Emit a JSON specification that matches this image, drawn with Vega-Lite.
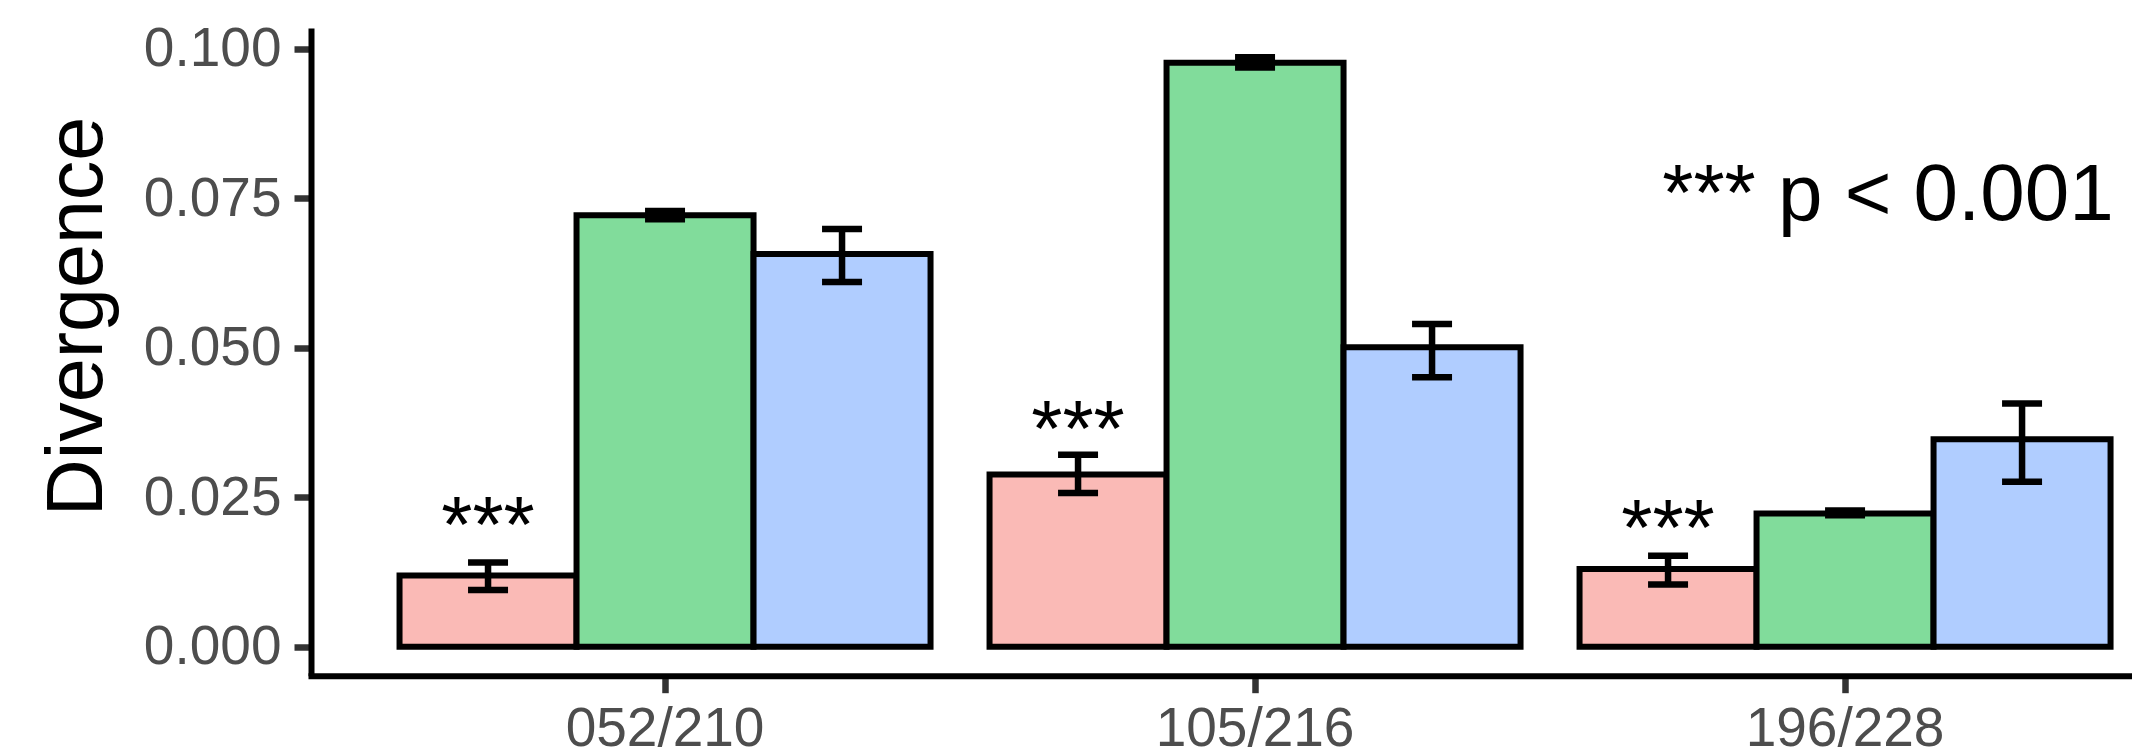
{
  "$schema": "https://vega.github.io/schema/vega-lite/v6.json",
  "autosize": {"type": "none"},
  "width": 1821,
  "height": 647.7,
  "padding": {"left": 311, "top": 28, "right": 0, "bottom": 78.3},
  "background": "white",
  "config": {
    "view": {"stroke": null},
    "font": "Liberation Sans",
    "axis": {"labelFont": "Liberation Sans", "titleFont": "Liberation Sans", "grid": false}
  },
  "datasets": {
    "bars": [
      {"group": "052/210", "cond": "S1", "mean": 0.0119, "lower": 0.0095, "upper": 0.0141, "sig": "***", "sig_y": 0.0159},
      {"group": "052/210", "cond": "S2", "mean": 0.0722, "lower": 0.0715, "upper": 0.0729, "sig": "", "sig_y": null},
      {"group": "052/210", "cond": "S3", "mean": 0.0657, "lower": 0.0610, "upper": 0.0699, "sig": "", "sig_y": null},
      {"group": "105/216", "cond": "S1", "mean": 0.0288, "lower": 0.0257, "upper": 0.0321, "sig": "***", "sig_y": 0.0319},
      {"group": "105/216", "cond": "S2", "mean": 0.0977, "lower": 0.0969, "upper": 0.0986, "sig": "", "sig_y": null},
      {"group": "105/216", "cond": "S3", "mean": 0.0501, "lower": 0.0451, "upper": 0.0540, "sig": "", "sig_y": null},
      {"group": "196/228", "cond": "S1", "mean": 0.0130, "lower": 0.0104, "upper": 0.0152, "sig": "***", "sig_y": 0.0153},
      {"group": "196/228", "cond": "S2", "mean": 0.0223, "lower": 0.0220, "upper": 0.0228, "sig": "", "sig_y": null},
      {"group": "196/228", "cond": "S3", "mean": 0.0347, "lower": 0.0276, "upper": 0.0407, "sig": "", "sig_y": null}
    ],
    "note": [
      {"group": "196/228", "y": 0.0714, "label": "*** p < 0.001"}
    ]
  },
  "encoding": {
    "x": {
      "field": "group", "type": "nominal",
      "sort": ["052/210", "105/216", "196/228"],
      "scale": {"type": "band", "paddingInner": 0.1, "paddingOuter": 0.0932, "align": 0.805, "round": false},
      "axis": {
        "title": null, "labelAngle": 0, "labelFontSize": 55, "labelColor": "#4D4D4D",
        "labelPadding": 10, "labelLimit": 0, "labelOverlap": false,
        "tickSize": 17, "tickWidth": 6.5, "tickColor": "#333333",
        "domainColor": "black", "domainWidth": 6, "domainCap": "square"
      }
    }
  },
  "layer": [
    {
      "data": {"name": "bars"},
      "mark": {"type": "bar", "stroke": "black", "strokeWidth": 6, "opacity": 1},
      "encoding": {
        "xOffset": {"field": "cond", "type": "nominal", "sort": ["S1", "S2", "S3"], "scale": {"paddingInner": 0, "paddingOuter": 0}},
        "y": {
          "field": "mean", "type": "quantitative",
          "scale": {"domain": [-0.00485, 0.10351], "nice": false, "zero": false},
          "axis": {
            "values": [0, 0.025, 0.05, 0.075, 0.1], "format": ".3f",
            "labelFontSize": 55, "labelColor": "#4D4D4D", "labelPadding": 13, "labelLimit": 0,
            "tickSize": 17, "tickWidth": 6.5, "tickColor": "#333333",
            "domainColor": "black", "domainWidth": 6,
            "title": "Divergence", "titleFontSize": 79, "titleColor": "black", "titleFontWeight": "normal",
            "titleX": -210, "titleY": 288, "titleAlign": "center", "titleBaseline": "alphabetic", "titleAngle": 270, "titleLimit": 0
          }
        },
        "fill": {
          "field": "cond", "type": "nominal", "sort": ["S1", "S2", "S3"],
          "scale": {"domain": ["S1", "S2", "S3"], "range": ["#FABAB6", "#81DC9B", "#B0CDFF"]},
          "legend": null
        }
      }
    },
    {
      "data": {"name": "bars"},
      "mark": {"type": "rule", "color": "black", "strokeWidth": 6.5},
      "encoding": {
        "xOffset": {"field": "cond", "type": "nominal", "sort": ["S1", "S2", "S3"]},
        "y": {"field": "lower", "type": "quantitative"},
        "y2": {"field": "upper"}
      }
    },
    {
      "data": {"name": "bars"},
      "mark": {"type": "tick", "color": "black", "size": 40, "thickness": 6.5, "opacity": 1},
      "encoding": {
        "xOffset": {"field": "cond", "type": "nominal", "sort": ["S1", "S2", "S3"]},
        "y": {"field": "lower", "type": "quantitative"}
      }
    },
    {
      "data": {"name": "bars"},
      "mark": {"type": "tick", "color": "black", "size": 40, "thickness": 6.5, "opacity": 1},
      "encoding": {
        "xOffset": {"field": "cond", "type": "nominal", "sort": ["S1", "S2", "S3"]},
        "y": {"field": "upper", "type": "quantitative"}
      }
    },
    {
      "data": {"name": "bars"},
      "transform": [{"filter": "datum.sig != ''"}],
      "mark": {"type": "text", "fontSize": 80, "color": "black", "align": "center", "baseline": "alphabetic", "font": "Liberation Sans"},
      "encoding": {
        "xOffset": {"field": "cond", "type": "nominal", "sort": ["S1", "S2", "S3"]},
        "y": {"field": "sig_y", "type": "quantitative"},
        "text": {"field": "sig"}
      }
    },
    {
      "data": {"name": "note"},
      "mark": {"type": "text", "fontSize": 80, "color": "black", "align": "center", "baseline": "alphabetic", "dx": 43, "font": "Liberation Sans"},
      "encoding": {
        "y": {"field": "y", "type": "quantitative"},
        "text": {"field": "label"}
      }
    }
  ]
}
